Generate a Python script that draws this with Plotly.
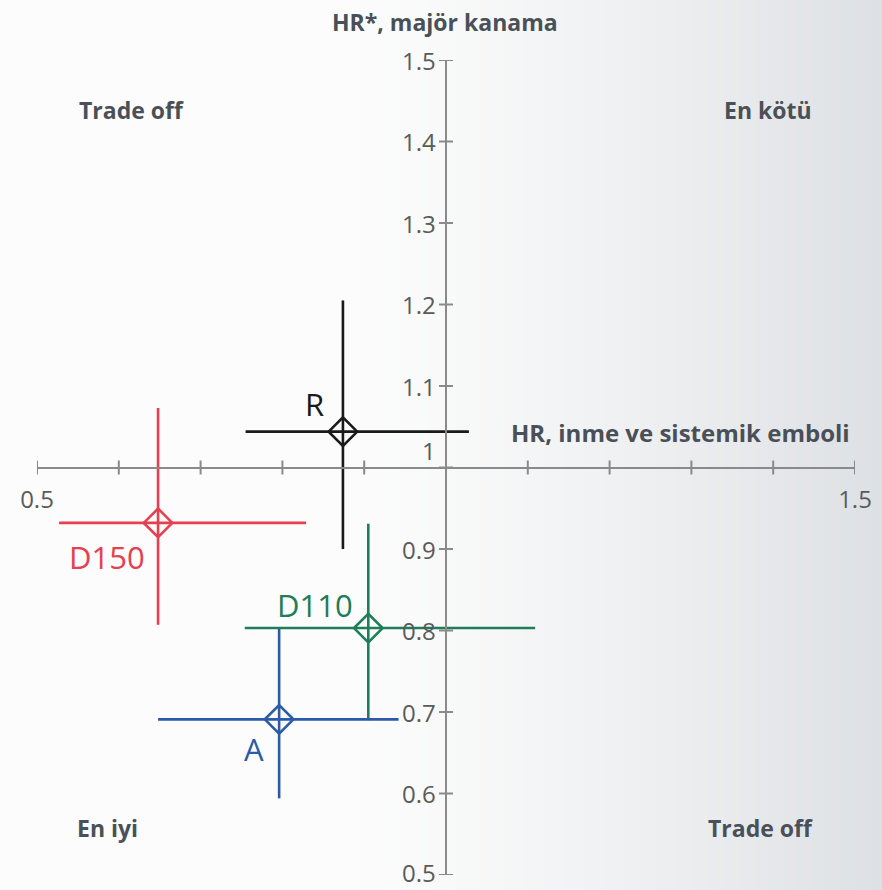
import plotly.graph_objects as go

# ---------------- data ----------------
names = ["R", "D150", "D110", "A"]
hr_stroke = [0.874, 0.648, 0.905, 0.796]
hr_stroke_lo = [0.755, 0.527, 0.754, 0.648]
hr_stroke_hi = [1.028, 0.829, 1.109, 0.942]
hr_bleed = [1.044, 0.932, 0.803, 0.691]
hr_bleed_lo = [0.900, 0.807, 0.690, 0.594]
hr_bleed_hi = [1.205, 1.073, 0.931, 0.802]
colors = ["#1a1a1a", "#e5404f", "#1f7d58", "#2a5aa8"]

x_ticks = [0.5, 0.6, 0.7, 0.8, 0.9, 1.0, 1.1, 1.2, 1.3, 1.4, 1.5]
x_ticklabels = ["0.5", "", "", "", "", "", "", "", "", "", "1.5"]
y_ticks = [0.5, 0.6, 0.7, 0.8, 0.9, 1.0, 1.1, 1.2, 1.3, 1.4, 1.5]
y_ticklabels = ["0.5", "0.6", "0.7", "0.8", "0.9", "1", "1.1", "1.2", "1.3", "1.4", "1.5"]

x_title = "HR, inme ve sistemik emboli"
y_title = "HR*, majör kanama"
quadrants = ["Trade off", "En kötü", "En iyi", "Trade off"]

# ---------------- layout constants ----------------
W, H = 882, 890
ML, MR, MT, MB = 37, 27, 60, 15
label_shift = {"R": (-28, 28), "D150": (-51, -34), "D110": (-53, 23), "A": (-25, -30)}
text_col = "#4a5057"
axis_col = "#8a8a8a"
tick_col = "#5a5a5a"
tick_font = dict(family="Open Sans", size=24, color=tick_col)

fig = go.Figure()

for i, n in enumerate(names):
    fig.add_trace(go.Scatter(
        x=[hr_stroke[i]], y=[hr_bleed[i]], mode="markers", name=n,
        marker=dict(symbol="diamond-open", size=22, color=colors[i],
                    line=dict(width=2.6, color=colors[i])),
        error_x=dict(type="data", symmetric=False,
                     array=[hr_stroke_hi[i] - hr_stroke[i]],
                     arrayminus=[hr_stroke[i] - hr_stroke_lo[i]],
                     color=colors[i], thickness=2.6, width=0),
        error_y=dict(type="data", symmetric=False,
                     array=[hr_bleed_hi[i] - hr_bleed[i]],
                     arrayminus=[hr_bleed[i] - hr_bleed_lo[i]],
                     color=colors[i], thickness=2.6, width=0),
        showlegend=False, hoverinfo="skip",
    ))
    dx, dy = label_shift[n]
    fig.add_annotation(x=hr_stroke[i], y=hr_bleed[i], text=n, showarrow=False,
                       xshift=dx, yshift=dy, xanchor="center", yanchor="middle",
                       font=dict(family="Open Sans", size=31, color=colors[i]))

# background gradient (left white -> right grey)
pw = W - ML - MR
ph = H - MT - MB
step = 4
for px in range(0, W, step):
    t = max(0.0, min(1.0, (px + step / 2 - 330) / (W - 330)))
    t = t ** 1.4
    r = round(252 - t * (252 - 221))
    g = round(252 - t * (252 - 224))
    b = round(252 - t * (252 - 228))
    fig.add_shape(type="rect", xref="paper", yref="paper", layer="below",
                  x0=(px - ML) / pw, x1=(px + step + 1 - ML) / pw,
                  y0=-MB / ph - 0.01, y1=(H - MB) / ph + 0.01,
                  line=dict(width=0), fillcolor=f"rgb({r},{g},{b})")

# crossing tick marks
dtx = 7 / ph
dty = 7 / pw
for v in x_ticks:
    fig.add_shape(type="line", xref="x", yref="y", x0=v, x1=v, y0=1 - dtx, y1=1 + dtx,
                  line=dict(color=axis_col, width=2))
for v in y_ticks:
    fig.add_shape(type="line", xref="x", yref="y", y0=v, y1=v, x0=1 - dty, x1=1 + dty,
                  line=dict(color=axis_col, width=2))

# y tick labels drawn as annotations beside the vertical axis
for v, lab in zip(y_ticks, y_ticklabels):
    if v == 1.0:
        ys = 17
    elif v == y_ticks[0]:
        ys = 3
    else:
        ys = 0
    fig.add_annotation(x=1, y=v, xref="x", yref="y", text=lab, showarrow=False,
                       xanchor="right", yanchor="middle", xshift=-8,
                       yshift=ys, font=tick_font)

# axis titles
fig.add_annotation(x=(852 - ML) / pw, y=(H - MB - 432) / ph, xref="paper", yref="paper",
                   text=f"<b>{x_title}</b>", showarrow=False, xanchor="right", yanchor="middle",
                   font=dict(family="Open Sans", size=24, color=text_col))
fig.add_annotation(x=(445 - ML) / pw, y=(H - MB - 22) / ph, xref="paper", yref="paper",
                   text=f"<b>{y_title}</b>", showarrow=False, xanchor="center", yanchor="middle",
                   font=dict(family="Open Sans", size=23, color=text_col))

# quadrant labels
quad_pos = [(131, 110), (768, 110), (107, 828), (760, 828)]
for q, (qx, qy) in zip(quadrants, quad_pos):
    fig.add_annotation(x=(qx - ML) / pw, y=(H - MB - qy) / ph, xref="paper", yref="paper",
                       text=f"<b>{q}</b>", showarrow=False, xanchor="center", yanchor="middle",
                       font=dict(family="Open Sans", size=23, color=text_col))

fig.update_layout(
    width=W, height=H,
    margin=dict(l=ML, r=MR, t=MT, b=MB, pad=0, autoexpand=False),
    paper_bgcolor="#fbfbfb", plot_bgcolor="rgba(0,0,0,0)",
    xaxis=dict(range=[0.5, 1.5], domain=[0, 1], anchor="free", position=0.5,
               showgrid=False, zeroline=False, showline=True, linecolor=axis_col, linewidth=2,
               tickvals=x_ticks, ticktext=x_ticklabels, ticks="", ticklabelstandoff=11,
               tickfont=tick_font),
    yaxis=dict(range=[0.5, 1.5], domain=[0, 1], anchor="free", position=0.5,
               showgrid=False, zeroline=False, showline=True, linecolor=axis_col, linewidth=2,
               showticklabels=False, ticks=""),
)

fig.write_html("out.html")
